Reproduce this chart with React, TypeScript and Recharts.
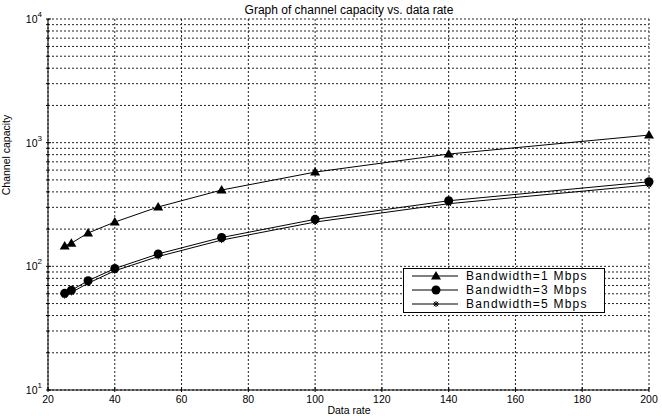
import { LineChart, Line, XAxis, YAxis, CartesianGrid } from "recharts"

// data rate (x) and channel capacity for three bandwidths
const dataRate = [25, 27, 32, 40, 53, 72, 100, 140, 200]
const bw1Mbps = [146, 154, 186, 228, 302, 414, 578, 809, 1152]
const bw3Mbps = [60.5, 64, 76.5, 96, 126, 171, 240, 339, 483]
const bw5Mbps = [58, 61.5, 73, 92, 120, 163, 228, 321, 455]

const seriesNames = ["Bandwidth=1 Mbps", "Bandwidth=3 Mbps", "Bandwidth=5 Mbps"]

const xTicks = [20, 40, 60, 80, 100, 120, 140, 160, 180, 200]
const decades = [10, 100, 1000, 10000]
const minorSteps = [1, 2, 3, 4, 5, 6, 7, 8, 9]

const yTicks = decades.flatMap((d, i) =>
  i === decades.length - 1 ? [d] : minorSteps.map((m) => m * d)
)

const data = dataRate.map((rate, i) => ({
  rate,
  bw1: bw1Mbps[i],
  bw3: bw3Mbps[i],
  bw5: bw5Mbps[i],
}))

const W = 662
const H = 416
const FONT = "'Liberation Sans', Arial, Helvetica, sans-serif"

const Triangle = ({ cx, cy }: { cx: number; cy: number }) => (
  <path d={`M${cx},${cy - 5}L${cx - 5},${cy + 3.5}L${cx + 5},${cy + 3.5}Z`} fill="#000" />
)

const Dot = ({ cx, cy }: { cx: number; cy: number }) => (
  <circle cx={cx} cy={cy} r={4.5} fill="#000" />
)

const Star = ({ cx, cy }: { cx: number; cy: number }) => (
  <g stroke="#000" strokeWidth={1}>
    <line x1={cx - 3} x2={cx + 3} y1={cy} y2={cy} />
    <line x1={cx} x2={cx} y1={cy - 3} y2={cy + 3} />
    <line x1={cx - 2.2} x2={cx + 2.2} y1={cy - 2.2} y2={cy + 2.2} />
    <line x1={cx - 2.2} x2={cx + 2.2} y1={cy + 2.2} y2={cy - 2.2} />
  </g>
)

const markers = [Triangle, Dot, Star]

const BottomTick = ({ x, y, payload }: any) => (
  <g>
    <line x1={x} x2={x} y1={y} y2={y - 5} stroke="#000" />
    <text x={x} y={y + 11} textAnchor="middle" fontSize={10.5} fontFamily={FONT} fill="#000">
      {payload.value}
    </text>
  </g>
)

const TopTick = ({ x, y }: any) => (
  <line x1={x} x2={x} y1={y} y2={y + 5} stroke="#000" />
)

const LeftTick = ({ x, y, payload }: any) => {
  const v = payload.value
  const major = decades.includes(v)
  return (
    <g>
      <line x1={x} x2={x + (major ? 5 : 3)} y1={y} y2={y} stroke="#000" />
      {major && (
        <text x={x - 4} y={y + 4} textAnchor="end" fontSize={10.5} fontFamily={FONT} fill="#000">
          <tspan>10</tspan>
          <tspan dy={-6} fontSize={8}>
            {Math.round(Math.log10(v))}
          </tspan>
        </text>
      )}
    </g>
  )
}

const RightTick = ({ x, y, payload }: any) => {
  const major = decades.includes(payload.value)
  return <line x1={x} x2={x - (major ? 5 : 3)} y1={y} y2={y} stroke="#000" />
}

const App = () => {
  return (
    <div style={{ position: "absolute", left: 0, top: 0, width: W, height: H, background: "#fff" }}>
      <LineChart
        width={W}
        height={H}
        data={data}
        margin={{ top: 19, right: 13, bottom: 0, left: 0 }}
      >
        <CartesianGrid
          yAxisId="left"
          stroke="#222"
          strokeDasharray="2 2"
          fill="none"
        />
        <XAxis
          xAxisId={0}
          dataKey="rate"
          type="number"
          domain={[20, 200]}
          ticks={xTicks}
          interval={0}
          height={26}
          tickSize={0}
          tickLine={false}
          axisLine={{ stroke: "#000" }}
          tick={<BottomTick />}
        />
        <XAxis
          xAxisId="top"
          orientation="top"
          dataKey="rate"
          type="number"
          domain={[20, 200]}
          ticks={xTicks}
          interval={0}
          height={0}
          tickSize={0}
          tickLine={false}
          axisLine={{ stroke: "#000" }}
          tick={<TopTick />}
        />
        <YAxis
          yAxisId="left"
          scale="log"
          domain={[10, 10000]}
          ticks={yTicks}
          interval={0}
          width={48}
          tickSize={0}
          tickLine={false}
          axisLine={{ stroke: "#000" }}
          tick={<LeftTick />}
        />
        <YAxis
          yAxisId="right"
          orientation="right"
          scale="log"
          domain={[10, 10000]}
          ticks={yTicks}
          interval={0}
          width={0}
          tickSize={0}
          tickLine={false}
          axisLine={{ stroke: "#000" }}
          tick={<RightTick />}
        />
        {["bw1", "bw3", "bw5"].map((key, i) => {
          const Marker = markers[i]
          return (
            <Line
              key={key}
              yAxisId="left"
              xAxisId={0}
              type="linear"
              dataKey={key}
              name={seriesNames[i]}
              stroke="#000"
              strokeWidth={1}
              isAnimationActive={false}
              activeDot={false}
              dot={(p: any) => <Marker key={`${key}-${p.index}`} cx={p.cx} cy={p.cy} />}
            />
          )
        })}
      </LineChart>

      <svg
        width={W}
        height={H}
        style={{ position: "absolute", left: 0, top: 0, pointerEvents: "none" }}
      >
        <g fontFamily={FONT} fill="#000">
          <text x={349} y={14} textAnchor="middle" fontSize={12}>
            Graph of channel capacity vs. data rate
          </text>
          <text x={349} y={414} textAnchor="middle" fontSize={10.5}>
            Data rate
          </text>
          <text transform="translate(10,155) rotate(-90)" textAnchor="middle" fontSize={10.5}>
            Channel capacity
          </text>
        </g>
        <g>
          <rect x={403.5} y={268.5} width={201} height={44} fill="#fff" stroke="#000" />
          {seriesNames.map((name, i) => {
            const Marker = markers[i]
            const ry = 276 + i * 14
            return (
              <g key={name}>
                <line x1={412} x2={458} y1={ry} y2={ry} stroke="#000" />
                <Marker cx={436} cy={ry} />
                <text x={466} y={ry + 4} fontSize={12} fontFamily={FONT} letterSpacing={1.2}>
                  {name}
                </text>
              </g>
            )
          })}
        </g>
      </svg>
    </div>
  )
}

export default App
